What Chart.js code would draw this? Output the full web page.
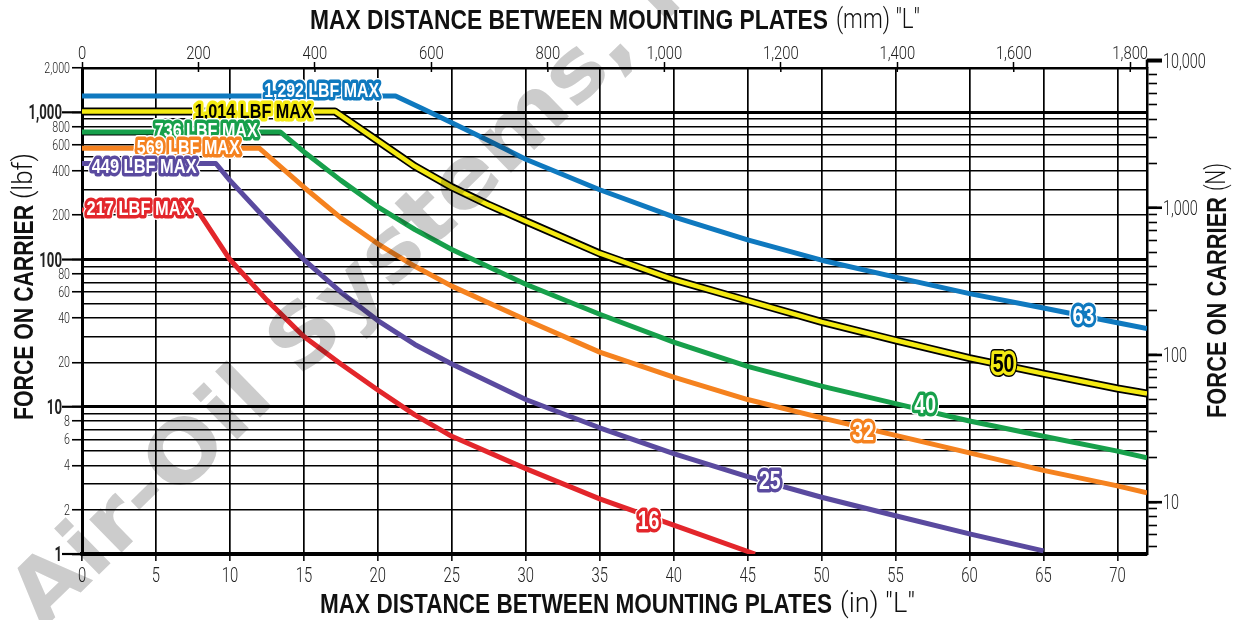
<!DOCTYPE html>
<html><head><meta charset="utf-8">
<script src="https://cdn.jsdelivr.net/npm/chart.js@4/dist/chart.umd.min.js"></script>
<style>html,body{margin:0;padding:0;background:#fff;overflow:hidden}canvas{display:block}</style>
</head><body>
<canvas id="c" width="1233" height="620" style="width:1233px;height:620px"></canvas>
<script>
// ---------- data ----------
const L16 = [0, 7.8, 10, 12.5, 15, 17.5, 20, 22.5, 25, 30, 35, 40, 45.5];
const F16 = [217, 217, 100, 53, 30, 19.5, 13, 8.8, 6.3, 3.8, 2.37, 1.57, 1.0];
const L25 = [0, 9.05, 10, 12.5, 15, 17.5, 20, 22.5, 25, 30, 35, 40, 45, 50, 55, 60, 65];
const F25 = [449, 449, 345, 185, 100, 60, 38.5, 26.5, 19.5, 11.2, 7.2, 4.8, 3.35, 2.43, 1.82, 1.37, 1.05];
const L32 = [0, 12, 15, 17.5, 20, 22.5, 25, 30, 35, 40, 45, 50, 55, 60, 65, 70, 72];
const F32 = [569, 569, 310, 192, 128, 90, 66, 39, 23.5, 15.9, 11.2, 8.4, 6.4, 4.86, 3.7, 2.9, 2.6];
const L40 = [0, 13.4, 15, 17.5, 20, 22.5, 25, 30, 35, 40, 45, 50, 55, 60, 65, 70, 72];
const F40 = [736, 736, 540, 345, 228, 160, 117, 68, 42.5, 27.5, 18.8, 13.8, 10.5, 8.0, 6.3, 5.0, 4.5];
const L50 = [0, 17.1, 20, 22.5, 25, 27.5, 30, 35, 40, 45, 50, 55, 60, 65, 70, 72];
const F50 = [1014, 1014, 640, 430, 310, 235, 182, 110, 73, 52.5, 37.7, 28.3, 21.4, 16.8, 13.3, 12.3];
const L63 = [0, 21.2, 23, 25, 27.5, 30, 35, 40, 45, 50, 55, 60, 65, 70, 72];
const F63 = [1292, 1292, 1060, 850, 640, 480, 298, 195, 136, 99, 76, 58.7, 46.9, 37.2, 34];

const BORE_NAMES = ['16', '25', '32', '40', '50', '63'];

// ---------- axes ----------
const X_MAX_IN = 72;
const MM_PER_IN = 25.4;
const LBF_TO_N = 4.448222;
const X_TICKS_IN = [0, 5, 10, 15, 20, 25, 30, 35, 40, 45, 50, 55, 60, 65, 70];
const X_TICKS_MM = [0, 200, 400, 600, 800, 1000, 1200, 1400, 1600, 1800];
const Y_MIN_LBF = 1, Y_MAX_LBF = 2000;
const Y_TICKS_LBF = [1,2,3,4,5,6,7,8,9,10,20,30,40,50,60,70,80,90,100,200,300,400,500,600,700,800,900,1000,2000];
const Y_LABELED_LBF = [1,2,4,6,8,10,20,40,60,80,100,200,400,600,800,1000,2000];
const Y_MAJOR_LBF = [1,10,100,1000];
const Y_TICKS_N = [5,6,7,8,9,10,20,30,40,50,60,70,80,90,100,200,300,400,500,600,700,800,900,1000,2000,3000,4000,5000,6000,7000,8000];
const Y_LABELED_N = [10,100,1000];
const Y_EXTRA_N = 10000;

const C_RED='#e3262b', C_PURPLE='#5a4a9f', C_ORANGE='#f5821f', C_GREEN='#17a04b', C_YELLOW='#f4ea12', C_BLUE='#0f79bf';

const LIGHT = "Roboto,'Liberation Sans',Arial,sans-serif";
const BOLDFAM = "'Liberation Sans',Arial,sans-serif";
const WMFAM = "'DejaVu Sans','Liberation Sans',sans-serif";
const fmt = v => Number(v).toLocaleString('en-US');
const pts = (L, F) => L.map((x, i) => ({x, y: F[i]}));

function line(label, L, F, color, width, order) {
  return { label, data: pts(L, F), borderColor: color, borderWidth: width, pointRadius: 0,
    fill: false, tension: 0, borderJoinStyle: 'round', borderCapStyle: 'butt',
    xAxisID: 'x', yAxisID: 'y', order };
}

const datasets = [
  line(BORE_NAMES[5], L63, F63, C_BLUE, 5, 1),
  line(BORE_NAMES[4], L50, F50, C_YELLOW, 4.5, 1),
  line(BORE_NAMES[4] + ' outline', L50, F50, '#000', 8, 2),
  line(BORE_NAMES[3], L40, F40, C_GREEN, 5, 1),
  line(BORE_NAMES[2], L32, F32, C_ORANGE, 5, 1),
  line(BORE_NAMES[1], L25, F25, C_PURPLE, 5, 1),
  line(BORE_NAMES[0], L16, F16, C_RED, 5, 1),
];

// label anchors (in data units) – layout only
const MAX_LABELS = [
  {F: F63, x: 16.2,  dy: -6, w: 115, bg: C_BLUE,   fg: '#fff'},
  {F: F50, x: 11.58, dy: 0,  w: 117, bg: C_YELLOW, fg: '#000'},
  {F: F40, x: 8.4,   dy: -2, w: 103, bg: C_GREEN,  fg: '#fff'},
  {F: F32, x: 7.18,  dy: -1, w: 103, bg: C_ORANGE, fg: '#fff'},
  {F: F25, x: 4.2,   dy: 3,  w: 105, bg: C_PURPLE, fg: '#fff'},
  {F: F16, x: 3.86,  dy: -2, w: 105, bg: C_RED,    fg: '#fff'},
];
const BORE_LABELS = [
  {t: BORE_NAMES[5], x: 67.7, y: 41,   bg: C_BLUE,   fg: '#fff', halo: '#fff'},
  {t: BORE_NAMES[4], x: 62.3, y: 19.6, bg: C_YELLOW, fg: '#000', halo: '#000'},
  {t: BORE_NAMES[3], x: 57.0, y: 10.2, bg: C_GREEN,  fg: '#fff', halo: '#fff'},
  {t: BORE_NAMES[2], x: 52.8, y: 6.76, bg: C_ORANGE, fg: '#fff', halo: '#fff'},
  {t: BORE_NAMES[1], x: 46.5, y: 3.14, bg: C_PURPLE, fg: '#fff', halo: '#fff'},
  {t: BORE_NAMES[0], x: 38.3, y: 1.68, bg: C_RED,    fg: '#fff', halo: '#fff'},
];

function sticker(ctx, text, cx, cy, size, targetW, bg, fg, halo) {
  ctx.save();
  ctx.font = `bold ${size}px ${BOLDFAM}`;
  const w = ctx.measureText(text).width;
  const sx = targetW ? targetW / w : 0.78;
  ctx.translate(cx, cy); ctx.scale(sx, 1);
  ctx.textAlign = 'center'; ctx.textBaseline = 'middle';
  ctx.lineJoin = 'round';
  ctx.lineWidth = 10; ctx.strokeStyle = halo; ctx.strokeText(text, 0, 1);
  ctx.lineWidth = 7; ctx.strokeStyle = bg; ctx.strokeText(text, 0, 1);
  ctx.fillStyle = fg; ctx.fillText(text, 0, 1);
  ctx.restore();
}
function fitRun(ctx, text, x, y, targetW, font) {
  ctx.save();
  ctx.font = font;
  const w = ctx.measureText(text).width;
  ctx.translate(x, y); ctx.scale(targetW / w, 1);
  ctx.textAlign = 'left'; ctx.textBaseline = 'middle';
  ctx.fillStyle = '#111';
  ctx.fillText(text, 0, 0);
  ctx.restore();
}
// condensed tick label: y is the baseline
function tickText(ctx, text, x, y, font, sx, align) {
  ctx.save();
  ctx.font = font; ctx.fillStyle = '#222';
  ctx.textAlign = align; ctx.textBaseline = 'alphabetic';
  ctx.translate(x, y); ctx.scale(sx, 1);
  ctx.fillText(text, 0, 0);
  ctx.restore();
}

const extras = {
  id: 'extras',
  afterDatasetsDraw(chart) {
    const {ctx, chartArea: a, scales} = chart;
    const xs = scales.x, xt = scales.xTop, ys = scales.y, yn = scales.yN;
    ctx.save();
    ctx.strokeStyle = '#000'; ctx.lineWidth = 2.2;
    Y_MAJOR_LBF.forEach(v => { const y = ys.getPixelForValue(v); ctx.beginPath(); ctx.moveTo(a.left - 20, y); ctx.lineTo(a.left, y); ctx.stroke(); });
    ctx.lineWidth = 2.6;
    Y_LABELED_N.forEach(v => { const y = yn.getPixelForValue(v); ctx.beginPath(); ctx.moveTo(a.right, y); ctx.lineTo(a.right + 15, y); ctx.stroke(); });
    const yT = yn.getPixelForValue(Y_EXTRA_N);
    ctx.lineWidth = 2.5; ctx.beginPath(); ctx.moveTo(a.right, yT - 1); ctx.lineTo(a.right, a.top); ctx.stroke();
    ctx.lineWidth = 4; ctx.beginPath(); ctx.moveTo(a.right, yT); ctx.lineTo(a.right + 15, yT); ctx.stroke();
    ctx.lineWidth = 1.5;
    xt.ticks.forEach(t => { const x = xt.getPixelForValue(t.value); ctx.beginPath(); ctx.moveTo(x, a.top); ctx.lineTo(x, a.top + 4); ctx.stroke(); });
    ctx.restore();

    // tick labels (condensed), positions from the scales
    xs.ticks.forEach(t => tickText(ctx, String(t.value), xs.getPixelForValue(t.value), a.bottom + 28, `300 20px ${LIGHT}`, 0.74, 'center'));
    xt.ticks.forEach(t => tickText(ctx, fmt(t.value), xt.getPixelForValue(t.value), a.top - 9, `300 19px ${LIGHT}`, 0.78, 'center'));
    ys.ticks.forEach(t => {
      if (!Y_LABELED_LBF.includes(t.value)) return;
      const y = ys.getPixelForValue(t.value);
      if (Y_MAJOR_LBF.includes(t.value)) tickText(ctx, fmt(t.value), a.left - 20, y + 7, `bold 20px ${LIGHT}`, 0.66, 'right');
      else tickText(ctx, fmt(t.value), a.left - 12, y + 5, `300 14px ${LIGHT}`, 0.76, 'right');
    });
    yn.ticks.forEach(t => {
      if (!Y_LABELED_N.includes(t.value)) return;
      tickText(ctx, fmt(t.value), a.right + 16, yn.getPixelForValue(t.value) + 7, `300 20px ${LIGHT}`, 0.72, 'left');
    });
    tickText(ctx, fmt(Y_EXTRA_N), a.right + 16, yT + 7, `300 20px ${LIGHT}`, 0.72, 'left');

    MAX_LABELS.forEach(m => {
      const cx = xs.getPixelForValue(m.x), cy = ys.getPixelForValue(m.F[0]) + m.dy;
      sticker(ctx, `${fmt(m.F[0])} LBF MAX`, cx, cy, 21, m.w, m.bg, m.fg, '#fff');
    });
    BORE_LABELS.forEach(b => {
      const cx = xs.getPixelForValue(b.x), cy = ys.getPixelForValue(b.y);
      sticker(ctx, b.t, cx, cy, 25, 0, b.bg, b.fg, b.halo);
    });
  },
  afterDraw(chart) {
    const {ctx} = chart;
    const BF = `bold 28px ${BOLDFAM}`, NF = `300 28px ${LIGHT}`;
    fitRun(ctx, 'MAX DISTANCE BETWEEN MOUNTING PLATES', 310, 21, 518, BF);
    fitRun(ctx, '(mm) "L"', 836, 21, 84, NF);
    fitRun(ctx, 'MAX DISTANCE BETWEEN MOUNTING PLATES', 320, 605, 512, BF);
    fitRun(ctx, '(in) "L"', 840, 605, 75, NF);
    ctx.save(); ctx.translate(25, 420); ctx.rotate(-Math.PI / 2);
    fitRun(ctx, 'FORCE ON CARRIER', 0, 0, 215, BF);
    fitRun(ctx, '(lbf)', 221, 0, 46, NF);
    ctx.restore();
    ctx.save(); ctx.translate(1218, 418); ctx.rotate(-Math.PI / 2);
    fitRun(ctx, 'FORCE ON CARRIER', 0, 0, 221, BF);
    fitRun(ctx, '(N)', 227, 0, 28, NF);
    ctx.restore();

    // watermark
    ctx.save();
    ctx.globalCompositeOperation = 'multiply';
    ctx.fillStyle = 'rgb(204,204,204)';
    ctx.font = `bold 92px ${WMFAM}`;
    const pre = ctx.measureText('Air-').width + ctx.measureText('O').width / 2;
    ctx.translate(182, 450); ctx.rotate(-44.3 * Math.PI / 180); ctx.scale(1, 0.92);
    ctx.textAlign = 'left'; ctx.textBaseline = 'alphabetic';
    ctx.fillText('Air-Oil Systems, Inc.', -pre, 34);
    ctx.restore();
  }
};

new Chart(document.getElementById('c'), {
  type: 'line',
  data: { datasets },
  options: {
    responsive: false, animation: false, devicePixelRatio: 1,
    layout: { padding: 0 },
    plugins: { legend: { display: false }, tooltip: { enabled: false } },
    scales: {
      x: {
        type: 'linear', position: 'bottom', min: 0, max: X_MAX_IN,
        afterBuildTicks: s => { s.ticks = X_TICKS_IN.map(v => ({value: v})); },
        afterFit: s => { s.height = 66; },
        ticks: { display: false, autoSkip: false },
        grid: { color: '#000', lineWidth: 1.7, tickLength: 7, tickColor: '#000', tickWidth: 1.5 },
        border: { color: '#000', width: 3.5 }
      },
      xTop: {
        type: 'linear', position: 'top', min: 0, max: X_MAX_IN * MM_PER_IN,
        afterBuildTicks: s => { s.ticks = X_TICKS_MM.map(v => ({value: v})); },
        afterFit: s => { s.height = 68; },
        ticks: { display: false, autoSkip: false },
        grid: { drawOnChartArea: false, tickLength: 6, color: '#000', tickWidth: 1.5 },
        border: { color: '#000', width: 2.5 }
      },
      y: {
        type: 'logarithmic', position: 'left', min: Y_MIN_LBF, max: Y_MAX_LBF,
        afterBuildTicks: s => { s.ticks = Y_TICKS_LBF.map(v => ({value: v})); },
        afterFit: s => { s.width = 82; },
        ticks: { display: false, autoSkip: false },
        grid: {
          color: '#000',
          lineWidth: c => (c.tick && Y_MAJOR_LBF.includes(c.tick.value)) ? 3 : 1.5,
          tickLength: 10,
          tickColor: c => (c.tick && Y_LABELED_LBF.includes(c.tick.value)) ? '#000' : 'rgba(0,0,0,0)',
          tickWidth: 1.6
        },
        border: { color: '#000', width: 3 }
      },
      yN: {
        type: 'logarithmic', position: 'right', min: Y_MIN_LBF * LBF_TO_N, max: Y_MAX_LBF * LBF_TO_N,
        afterBuildTicks: s => { s.ticks = Y_TICKS_N.map(v => ({value: v})); },
        afterFit: s => { s.width = 86; },
        ticks: { display: false, autoSkip: false },
        grid: { drawOnChartArea: false, tickLength: 10, color: '#000', tickWidth: 1.6 },
        border: { color: '#000', width: 2.5 }
      }
    }
  },
  plugins: [extras]
});
</script>
</body></html>
